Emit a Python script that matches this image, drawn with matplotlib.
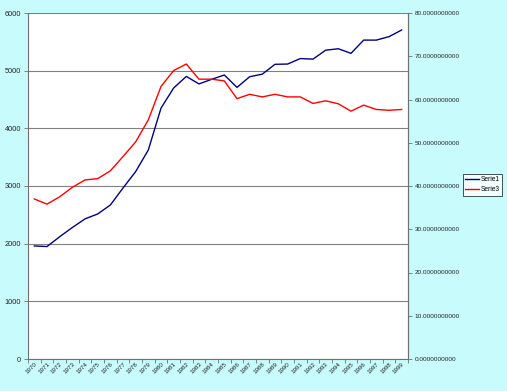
import matplotlib
matplotlib.use("Agg")
import matplotlib.pyplot as plt
from matplotlib.ticker import FixedLocator, FuncFormatter

plt.rcParams["font.family"] = ["Liberation Sans", "DejaVu Sans"]

years = [str(y) for y in range(1970, 2000)]
serie1 = [1960, 1950, 2120, 2280, 2430, 2515, 2670, 2965, 3250, 3625,
          4350, 4700, 4900, 4770, 4850, 4925, 4710, 4895, 4940, 5110,
          5115, 5210, 5200, 5355, 5380, 5300, 5530, 5530, 5590, 5705]
serie3 = [37.0, 35.8, 37.5, 39.7, 41.4, 41.7, 43.5, 46.8, 50.2, 55.3,
          63.0, 66.7, 68.2, 64.7, 64.7, 64.3, 60.2, 61.2, 60.6, 61.2,
          60.6, 60.6, 59.1, 59.7, 59.0, 57.3, 58.7, 57.7, 57.5, 57.7]
left_ticks = [0, 1000, 2000, 3000, 4000, 5000, 6000]
right_ticks = [0, 10, 20, 30, 40, 50, 60, 70, 80]

bg = "#C8FCFC"
fig = plt.figure(figsize=(5.07, 3.91), dpi=100, facecolor=bg)
ax = fig.add_axes([28/507, 1-359/391, 380/507, 346/391])
ax.set_facecolor("white")
x = [i + 0.5 for i in range(len(years))]

ax.set_xlim(0, len(years))
ax.set_ylim(0, 6000)
ax.set_yticks(left_ticks)
ax.yaxis.grid(True, color="#808080", linewidth=0.8)
ax.set_axisbelow(True)
ax.spines["top"].set_visible(False)
for s in ["left", "bottom", "right"]:
    ax.spines[s].set_color("#707070")
    ax.spines[s].set_linewidth(0.8)

ax.xaxis.set_major_locator(FixedLocator(range(len(years) + 1)))
ax.xaxis.set_minor_locator(FixedLocator(x))
ax.set_xticklabels([], minor=False)
ax.set_xticklabels(years, minor=True, rotation=45, fontsize=4.5,
                   ha="right", va="top", rotation_mode="anchor", color="#222222")
ax.tick_params(axis="x", which="major", length=3, width=0.6, color="#707070")
ax.tick_params(axis="x", which="minor", length=0, pad=2)
ax.tick_params(axis="y", labelsize=5.3, length=3, width=0.6, color="#707070",
               labelcolor="#222222", pad=2)

l1, = ax.plot(x, serie1, color="#000080", linewidth=1.0, label="Serie1")

ax2 = ax.twinx()
ax2.set_ylim(0, 80)
ax2.set_yticks(right_ticks)
ax2.yaxis.set_major_formatter(FuncFormatter(lambda v, p: f"{v:.10f}"))
ax2.tick_params(axis="y", labelsize=4.6, length=3, width=0.6, color="#707070",
                labelcolor="#222222", pad=2)
for s in ["top", "left", "bottom"]:
    ax2.spines[s].set_visible(False)
ax2.spines["right"].set_color("#707070")
ax2.spines["right"].set_linewidth(0.8)
l3, = ax2.plot(x, serie3, color="#FF0000", linewidth=1.0, label="Serie3")

leg = fig.legend(handles=[l1, l3], labels=["Serie1", "Serie3"],
                 loc="center", bbox_to_anchor=(482.5/507, 1-184.5/391),
                 fontsize=4.8, frameon=True, fancybox=False, handlelength=2.0,
                 borderpad=0.4, labelspacing=0.4, handletextpad=0.3,
                 borderaxespad=0)
leg.get_frame().set_edgecolor("#000000")
leg.get_frame().set_linewidth(0.6)
leg.get_frame().set_facecolor("white")

fig.savefig("out.png", dpi=100, facecolor=bg)
